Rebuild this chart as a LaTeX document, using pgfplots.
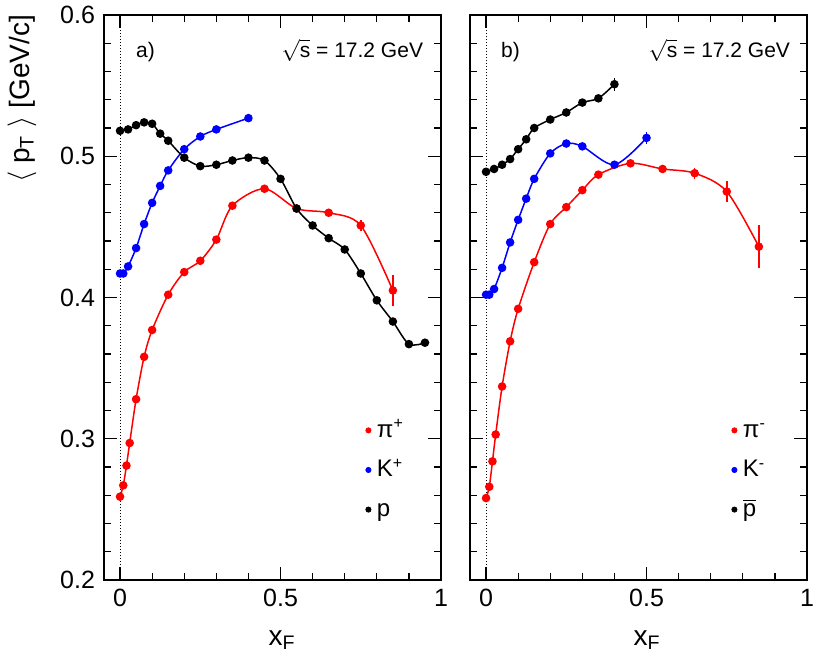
\documentclass[border=0pt]{standalone}
\usepackage{fontspec}
\setmainfont{Liberation Sans}
\usepackage{pgfplots}
\pgfplotsset{compat=1.18}
\usepackage{pgfplotstable}

\pgfplotstableread{
x y e
0 0.259 0
0.01 0.267 0
0.02 0.281 0
0.03 0.297 0
0.05 0.328 0
0.075 0.358 0
0.1 0.377 0
0.15 0.402 0
0.2 0.418 0
0.25 0.426 0
0.3 0.441 0
0.35 0.465 0
0.45 0.477 0.001
0.55 0.463 0.002
0.65 0.460 0.002
0.75 0.451 0.004
0.85 0.405 0.011
}\pip
\pgfplotstableread{
x y e
0 0.417 0
0.01 0.417 0
0.025 0.422 0
0.05 0.435 0
0.075 0.452 0
0.1 0.467 0
0.125 0.479 0
0.15 0.490 0
0.2 0.505 0
0.25 0.514 0
0.3 0.519 0
0.4 0.527 0.001
}\kp
\pgfplotstableread{
x y e
0 0.518 0
0.025 0.519 0
0.05 0.522 0
0.075 0.524 0
0.1 0.523 0
0.125 0.516 0
0.15 0.511 0
0.2 0.499 0
0.25 0.493 0
0.3 0.494 0
0.35 0.497 0
0.4 0.499 0
0.45 0.497 0
0.5 0.484 0
0.55 0.463 0
0.6 0.451 0
0.65 0.442 0
0.7 0.434 0
0.75 0.417 0
0.8 0.398 0
0.85 0.383 0
0.9 0.367 0
0.95 0.368 0
}\pp
\pgfplotstableread{
x y e
0 0.258 0
0.01 0.266 0
0.02 0.284 0
0.03 0.303 0
0.05 0.337 0
0.075 0.369 0
0.1 0.392 0
0.15 0.425 0
0.2 0.452 0
0.25 0.464 0
0.3 0.476 0
0.35 0.487 0
0.45 0.495 0.001
0.55 0.491 0.002
0.65 0.488 0.004
0.75 0.475 0.0075
0.85 0.436 0.015
}\pim
\pgfplotstableread{
x y e
0 0.402 0
0.01 0.402 0
0.025 0.406 0
0.05 0.421 0
0.075 0.439 0
0.1 0.455 0
0.125 0.470 0
0.15 0.484 0
0.2 0.502 0
0.25 0.509 0
0.3 0.507 0
0.4 0.494 0.001
0.5 0.513 0.004
}\km
\pgfplotstableread{
x y e
0 0.489 0
0.025 0.491 0
0.05 0.494 0
0.075 0.498 0
0.1 0.505 0
0.125 0.512 0
0.15 0.520 0
0.2 0.526 0
0.25 0.531 0
0.3 0.538 0
0.35 0.541 0
0.4 0.551 0.0047
}\pbar

\definecolor{rred}{RGB}{255,0,0}
\definecolor{rblue}{RGB}{0,0,255}

\pgfplotsset{
  panel/.style={
    anchor=south west, scale only axis,
    width=168.5pt, height=282.5pt,
    xmin=-0.05, xmax=1, ymin=0.2, ymax=0.6,
    xtick={0,0.5,1}, xticklabels={0,0.5,1},
    ytick={0.2,0.3,0.4,0.5,0.6},
    minor x tick num=4, minor y tick num=4,
    major tick length=6.5pt, minor tick length=3.5pt,
    tick style={black, line width=0.6pt},
    axis line style={line width=0.6pt},
    ticklabel style={font=\fontsize{12.5}{14}\selectfont},
    xticklabel style={yshift=-1pt},
    yticklabel style={xshift=-1pt},
    clip=false,
    legend style={draw=none, fill=none, font=\fontsize{12}{14}\selectfont,
      at={(axis cs:0.746,0.314)}, anchor=north west, row sep=8.8pt,
      legend cell align=left, inner sep=0pt,
      nodes={inner sep=0pt, text height=9pt, text depth=2pt}},
    legend image code/.code={\path[draw=none,fill=none] (0cm,0cm) rectangle (0.3cm,0cm); \fill[##1] (0.15cm,0cm) circle (1.3pt);},
  },
  dat/.style={line width=0.75pt, mark=*, mark size=1.75pt, smooth,
    mark options={solid},
    error bars/.cd, y dir=both, y explicit, error mark=none,
    error bar style={line width=0.75pt}},
}

\begin{document}
\begin{tikzpicture}
\useasboundingbox (0,0) rectangle (408.5pt,329.5pt);
\begin{axis}[panel, at={(52pt,39.5pt)}, yticklabels={0.2,0.3,0.4,0.5,0.6}]
\addplot[forget plot, black, densely dotted, line width=0.5pt] coordinates {(0,0.2) (0,0.6)};
\addplot[forget plot, rred, dat] table[x=x,y=y,y error=e] {\pip};
\addplot[forget plot, rblue, dat] table[x=x,y=y,y error=e] {\kp};
\addplot[forget plot, black, dat] table[x=x,y=y,y error=e] {\pp};
\addlegendimage{rred}
\addlegendentry{π\textsuperscript{+}}
\addlegendimage{rblue}
\addlegendentry{K\textsuperscript{+}}
\addlegendimage{black}
\addlegendentry{p}
\node[anchor=base west, font=\fontsize{10.5}{12}\selectfont] at (axis cs:0.028,0.570) {a)};
\node[anchor=base east, font=\fontsize{10.5}{12}\selectfont] at (axis cs:0.966,0.570) {$\sqrt{\mbox{s}}$ = 17.2 GeV};
\end{axis}
\begin{axis}[panel, at={(235pt,39.5pt)}, yticklabels={}]
\addplot[forget plot, black, densely dotted, line width=0.5pt] coordinates {(0,0.2) (0,0.6)};
\addplot[forget plot, rred, dat] table[x=x,y=y,y error=e] {\pim};
\addplot[forget plot, rblue, dat] table[x=x,y=y,y error=e] {\km};
\addplot[forget plot, black, dat] table[x=x,y=y,y error=e] {\pbar};
\addlegendimage{rred}
\addlegendentry{π\textsuperscript{-}}
\addlegendimage{rblue}
\addlegendentry{K\textsuperscript{-}}
\addlegendimage{black}
\addlegendentry{$\overline{\mbox{p}}$}
\node[anchor=base west, font=\fontsize{10.5}{12}\selectfont] at (axis cs:0.025,0.570) {b)};
\node[anchor=base east, font=\fontsize{10.5}{12}\selectfont] at (axis cs:0.969,0.570) {$\sqrt{\mbox{s}}$ = 17.2 GeV};
\end{axis}
\node[rotate=90, anchor=east, font=\fontsize{14}{16}\selectfont] at (11pt,325.5pt) {$\langle$ p\textsubscript{T} $\rangle$ [GeV/c]};
\node[anchor=base, font=\fontsize{14}{16}\selectfont] at (141pt,7pt) {x\textsubscript{F}};
\node[anchor=base, font=\fontsize{14}{16}\selectfont] at (323.5pt,7pt) {x\textsubscript{F}};
\end{tikzpicture}
\end{document}
